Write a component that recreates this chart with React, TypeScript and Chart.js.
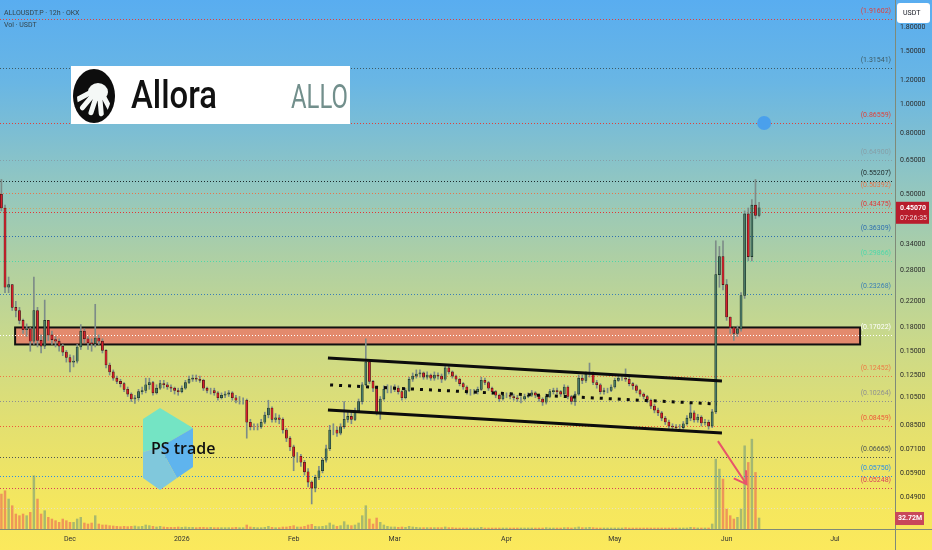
import { useEffect, useRef } from "react"
import { Chart, registerables } from "chart.js"

Chart.register(...registerables)

// daily candles, day 0 = 12 Nov 2025
const firstOpen = 0.5
const closes = [
  0.45, 0.245, 0.25, 0.21, 0.205, 0.19, 0.177, 0.178, 0.162, 0.205,
  0.163, 0.156, 0.19, 0.17, 0.164, 0.162, 0.156, 0.149, 0.143, 0.138,
  0.139, 0.155, 0.175, 0.165, 0.16, 0.159, 0.166, 0.162, 0.151, 0.135,
  0.128, 0.122, 0.119, 0.117, 0.112, 0.108, 0.104, 0.105, 0.11, 0.111,
  0.116, 0.118, 0.109, 0.113, 0.117, 0.116, 0.114, 0.113, 0.111, 0.11,
  0.113, 0.118, 0.121, 0.122, 0.121, 0.12, 0.113, 0.111, 0.111, 0.109,
  0.105, 0.107, 0.108, 0.109, 0.105, 0.103, 0.103, 0.103, 0.087, 0.084,
  0.084, 0.084, 0.087, 0.092, 0.097, 0.089, 0.09, 0.089, 0.082, 0.077,
  0.072, 0.067, 0.067, 0.064, 0.0595, 0.055, 0.0525, 0.057, 0.06, 0.065,
  0.071, 0.082, 0.082, 0.08, 0.084, 0.089, 0.091, 0.089, 0.095, 0.102,
  0.116, 0.138, 0.119, 0.113, 0.094, 0.104, 0.112, 0.112, 0.112, 0.113,
  0.11, 0.105, 0.111, 0.121, 0.124, 0.126, 0.127, 0.123, 0.125, 0.122,
  0.125, 0.124, 0.121, 0.132, 0.128, 0.124, 0.121, 0.117, 0.114, 0.11,
  0.11, 0.11, 0.112, 0.12, 0.118, 0.113, 0.11, 0.107, 0.104, 0.107,
  0.107, 0.106, 0.105, 0.104, 0.104, 0.106, 0.107, 0.109, 0.107, 0.104,
  0.1015, 0.106, 0.11, 0.111, 0.11, 0.108, 0.114, 0.106, 0.102, 0.108,
  0.122, 0.12, 0.126, 0.127, 0.118, 0.116, 0.11, 0.111, 0.111, 0.114,
  0.12, 0.122, 0.122, 0.121, 0.117, 0.115, 0.111, 0.108, 0.106, 0.103,
  0.0985, 0.0955, 0.0935, 0.0898, 0.0872, 0.0845, 0.084, 0.0835, 0.0835, 0.086,
  0.0898, 0.0935, 0.0885, 0.0905, 0.0865, 0.087, 0.0845, 0.0942, 0.27, 0.31,
  0.25, 0.195, 0.18, 0.172, 0.178, 0.23, 0.43, 0.31, 0.46, 0.425,
  0.4507,
]
const highs = [
  0.56, 0.46, 0.265, 0.25, 0.22, 0.21, 0.192, 0.185, 0.18, 0.265,
  0.21, 0.17, 0.222, 0.19, 0.175, 0.168, 0.165, 0.158, 0.151, 0.146,
  0.145, 0.158, 0.184, 0.178, 0.168, 0.165, 0.215, 0.17, 0.165, 0.152,
  0.137, 0.13, 0.124, 0.121, 0.118, 0.114, 0.109, 0.107, 0.112, 0.114,
  0.122, 0.122, 0.119, 0.116, 0.12, 0.12, 0.118, 0.116, 0.114, 0.113,
  0.115, 0.12, 0.124, 0.125, 0.125, 0.124, 0.121, 0.114, 0.113, 0.113,
  0.11, 0.109, 0.11, 0.111, 0.11, 0.107, 0.106, 0.105, 0.104, 0.089,
  0.086, 0.086, 0.089, 0.094, 0.103, 0.098, 0.093, 0.092, 0.09, 0.083,
  0.078, 0.073, 0.069, 0.068, 0.065, 0.061, 0.0555, 0.058, 0.062, 0.066,
  0.073, 0.085, 0.086, 0.084, 0.086, 0.102, 0.094, 0.094, 0.097, 0.104,
  0.118, 0.165, 0.14, 0.12, 0.114, 0.106, 0.115, 0.116, 0.115, 0.116,
  0.115, 0.111, 0.113, 0.123, 0.127, 0.13, 0.13, 0.128, 0.128, 0.126,
  0.128, 0.127, 0.126, 0.135, 0.134, 0.129, 0.125, 0.122, 0.118, 0.115,
  0.112, 0.112, 0.114, 0.123, 0.122, 0.119, 0.114, 0.111, 0.108, 0.109,
  0.109, 0.109, 0.108, 0.107, 0.106, 0.108, 0.109, 0.111, 0.11, 0.108,
  0.105, 0.108, 0.112, 0.113, 0.113, 0.111, 0.116, 0.115, 0.107, 0.11,
  0.125, 0.125, 0.128, 0.137, 0.128, 0.12, 0.117, 0.113, 0.113, 0.116,
  0.122, 0.124, 0.125, 0.131, 0.123, 0.118, 0.116, 0.112, 0.109, 0.107,
  0.104, 0.1, 0.097, 0.0945, 0.091, 0.0885, 0.086, 0.0855, 0.0855, 0.0875,
  0.0915, 0.1016, 0.095, 0.0925, 0.0915, 0.089, 0.0885, 0.096, 0.35, 0.335,
  0.35, 0.26, 0.195, 0.18, 0.182, 0.235, 0.44, 0.45, 0.48, 0.56,
  0.47,
]
const lows = [
  0.44, 0.235, 0.235, 0.205, 0.195, 0.185, 0.172, 0.168, 0.15, 0.158,
  0.155, 0.148, 0.153, 0.163, 0.158, 0.155, 0.15, 0.145, 0.138, 0.128,
  0.133, 0.137, 0.152, 0.16, 0.152, 0.15, 0.155, 0.158, 0.148, 0.132,
  0.125, 0.12, 0.117, 0.114, 0.11, 0.106, 0.102, 0.1005, 0.103, 0.108,
  0.109, 0.112, 0.107, 0.108, 0.112, 0.113, 0.112, 0.11, 0.108, 0.107,
  0.109, 0.112, 0.117, 0.119, 0.119, 0.118, 0.111, 0.109, 0.108, 0.107,
  0.103, 0.104, 0.105, 0.106, 0.103, 0.101, 0.1, 0.1, 0.077, 0.082,
  0.082, 0.082, 0.083, 0.086, 0.09, 0.087, 0.087, 0.086, 0.08, 0.075,
  0.07, 0.06, 0.064, 0.062, 0.058, 0.053, 0.0465, 0.051, 0.056, 0.059,
  0.064, 0.07, 0.079, 0.078, 0.079, 0.083, 0.087, 0.086, 0.088, 0.094,
  0.1, 0.115, 0.117, 0.11, 0.092, 0.089, 0.103, 0.109, 0.109, 0.11,
  0.108, 0.103, 0.104, 0.11, 0.119, 0.122, 0.123, 0.121, 0.121, 0.12,
  0.12, 0.121, 0.118, 0.12, 0.126, 0.122, 0.119, 0.115, 0.112, 0.108,
  0.107, 0.108, 0.108, 0.111, 0.116, 0.111, 0.108, 0.105, 0.102, 0.103,
  0.105, 0.104, 0.103, 0.102, 0.101, 0.103, 0.105, 0.106, 0.105, 0.102,
  0.099, 0.1, 0.105, 0.108, 0.108, 0.106, 0.107, 0.104, 0.1, 0.099,
  0.107, 0.117, 0.118, 0.123, 0.116, 0.113, 0.108, 0.108, 0.109, 0.11,
  0.113, 0.119, 0.12, 0.119, 0.115, 0.112, 0.109, 0.106, 0.104, 0.101,
  0.0965, 0.0935, 0.0915, 0.088, 0.0855, 0.083, 0.0825, 0.082, 0.082, 0.0825,
  0.085, 0.088, 0.087, 0.087, 0.0845, 0.085, 0.0825, 0.0835, 0.093, 0.245,
  0.24, 0.19, 0.172, 0.163, 0.168, 0.175, 0.225, 0.3, 0.3, 0.415,
  0.42,
]
// volume in millions of USDT
const volumes = [
  105, 115, 90, 70, 45, 40, 45, 40, 50, 160,
  90, 45, 55, 35, 30, 25, 20, 30, 25, 20,
  20, 30, 35, 18, 15, 18, 40, 15, 12, 12,
  10, 9, 8, 7, 8, 7, 8, 9, 7, 8,
  12, 10, 8, 6, 8, 6, 5, 5, 5, 6,
  5, 6, 5, 5, 4, 5, 5, 4, 5, 4,
  4, 4, 4, 4, 4, 5, 4, 4, 12, 6,
  5, 4, 4, 5, 8, 5, 4, 4, 6, 6,
  8, 10, 6, 6, 8, 12, 14, 8, 7, 8,
  10, 18, 12, 8, 10, 22, 12, 10, 12, 18,
  40, 70, 30, 15, 33, 20, 12, 8, 6, 6,
  5, 6, 5, 8, 6, 5, 4, 4, 4, 4,
  4, 4, 4, 6, 4, 4, 3, 3, 3, 3,
  3, 3, 3, 5, 3, 3, 3, 3, 3, 3,
  3, 3, 3, 3, 3, 3, 3, 3, 3, 3,
  3, 4, 3, 3, 3, 3, 4, 4, 3, 4,
  6, 4, 4, 5, 4, 3, 3, 3, 3, 3,
  3, 3, 3, 4, 3, 3, 3, 3, 3, 3,
  3, 3, 3, 3, 3, 3, 3, 3, 3, 3,
  3, 5, 4, 3, 3, 3, 3, 15, 210, 180,
  150, 60, 40, 30, 35, 60, 250, 200, 270, 170,
  33,
]

const monthTicks = [19, 50, 81, 109, 140, 170, 201, 231]
const monthLabels = ["Dec", "2026", "Feb", "Mar", "Apr", "May", "Jun", "Jul"]
const priceTicks = [1.8, 1.5, 1.2, 1.0, 0.8, 0.65, 0.5, 0.34, 0.28, 0.22, 0.18, 0.15, 0.125, 0.105, 0.085, 0.071, 0.059, 0.049]

const levels = [1.91602, 1.31541, 0.86559, 0.649, 0.55207, 0.50392, 0.43475, 0.36309, 0.29866, 0.23268, 0.17022, 0.12452, 0.10264, 0.08459, 0.06665, 0.0575, 0.05248]
const levelColors = ["#e0413a", "#3e5a64", "#e0413a", "#86a0a8", "#1e2a2a", "#e8764a", "#e33434", "#2f6fb0", "#4fd8a8", "#3a7fb5", "#ffffff", "#ee7a45", "#8f9090", "#ee5a3a", "#4a5555", "#2a8de8", "#d8405a"]

const zoneDays = [3.8, 238]
const zonePrices = [0.158, 0.18]
const channelDays = [90.5, 199.7]
const upperLine = [0.1424, 0.1194]
const lowerLine = [0.0955, 0.0801]
const midDays = [91.1, 198.3]
const midLine = [0.1158, 0.1001]
const arrowDays = [198.6, 206.5]
const arrowPrices = [0.0753, 0.0541]
const dotDay = 211.4
const dotPrice = 0.864

const opens = closes.map((c, i) => (i === 0 ? firstOpen : closes[i - 1]))
const isUp = closes.map((c, i) => c >= opens[i])

const FONT = "Roboto, 'DejaVu Sans', sans-serif"

const overlay = {
  id: "overlay",
  beforeDraw(chart: any) {
    const { ctx, width, height } = chart
    const g = ctx.createLinearGradient(0, 0, 0, height)
    g.addColorStop(0, "#59adf0")
    g.addColorStop(0.15, "#69b6e4")
    g.addColorStop(0.32, "#8ec5c4")
    g.addColorStop(0.48, "#b0d0a2")
    g.addColorStop(0.62, "#cad98a")
    g.addColorStop(0.78, "#e4e06f")
    g.addColorStop(0.92, "#f5e75e")
    g.addColorStop(1, "#fbe95c")
    ctx.save()
    ctx.fillStyle = g
    ctx.fillRect(0, 0, width, height)
    ctx.restore()
  },
  beforeDatasetsDraw(chart: any) {
    const { ctx, chartArea } = chart
    const X = chart.scales.x
    const Y = chart.scales.y
    ctx.save()
    // zone
    const zl = X.getPixelForValue(zoneDays[0])
    const zr = X.getPixelForValue(zoneDays[1])
    const zt = Y.getPixelForValue(zonePrices[1])
    const zb = Y.getPixelForValue(zonePrices[0])
    ctx.fillStyle = "#e38a6d"
    ctx.fillRect(zl, zt, zr - zl, zb - zt)
    ctx.strokeStyle = "#111"
    ctx.lineWidth = 2
    ctx.strokeRect(zl, zt, zr - zl, zb - zt)

    // faint level and current price line
    ctx.lineWidth = 1
    ctx.setLineDash([1, 2])
    const faint = [
      [0.045, "rgba(230,225,200,0.9)"],
      [closes[closes.length - 1], "#c9a46a"],
    ]
    faint.forEach(([v, c]: any) => {
      const y = Math.round(Y.getPixelForValue(v)) + 0.5
      ctx.strokeStyle = c
      ctx.beginPath()
      ctx.moveTo(chartArea.left, y)
      ctx.lineTo(892, y)
      ctx.stroke()
    })

    ctx.font = `7px ${FONT}`
    ctx.textAlign = "right"
    ctx.textBaseline = "middle"
    levels.forEach((v, i) => {
      const y = Math.round(Y.getPixelForValue(v)) + 0.5
      ctx.strokeStyle = levelColors[i]
      ctx.beginPath()
      ctx.moveTo(chartArea.left, y)
      ctx.lineTo(892, y)
      ctx.stroke()
      ctx.fillStyle = levelColors[i]
      ctx.fillText(`(${v.toFixed(5)})`, 891, y - 8)
    })
    ctx.restore()
  },
  afterDatasetsDraw(chart: any) {
    const { ctx } = chart
    const X = chart.scales.x
    const Y = chart.scales.y
    ctx.save()
    ctx.strokeStyle = "#0c0c0c"
    ctx.lineWidth = 3
    ;[upperLine, lowerLine].forEach((ln) => {
      ctx.beginPath()
      ctx.moveTo(X.getPixelForValue(channelDays[0]), Y.getPixelForValue(ln[0]))
      ctx.lineTo(X.getPixelForValue(channelDays[1]), Y.getPixelForValue(ln[1]))
      ctx.stroke()
    })
    ctx.setLineDash([3, 6])
    ctx.beginPath()
    ctx.moveTo(X.getPixelForValue(midDays[0]), Y.getPixelForValue(midLine[0]))
    ctx.lineTo(X.getPixelForValue(midDays[1]), Y.getPixelForValue(midLine[1]))
    ctx.stroke()
    ctx.setLineDash([])

    // arrow
    const x0 = X.getPixelForValue(arrowDays[0])
    const y0 = Y.getPixelForValue(arrowPrices[0])
    const x1 = X.getPixelForValue(arrowDays[1])
    const y1 = Y.getPixelForValue(arrowPrices[1])
    const a = Math.atan2(y1 - y0, x1 - x0)
    ctx.strokeStyle = "#e8546a"
    ctx.lineWidth = 2
    ctx.beginPath()
    ctx.moveTo(x0, y0)
    ctx.lineTo(x1, y1)
    ctx.moveTo(x1 - 14 * Math.cos(a - 0.55), y1 - 14 * Math.sin(a - 0.55))
    ctx.lineTo(x1, y1)
    ctx.lineTo(x1 - 14 * Math.cos(a + 0.55), y1 - 14 * Math.sin(a + 0.55))
    ctx.stroke()
    ctx.restore()
  },
  afterDraw(chart: any) {
    const { ctx, width, height, chartArea } = chart
    const Y = chart.scales.y
    const V = chart.scales.vol
    ctx.save()
    // axis lines
    ctx.strokeStyle = "#7f8a78"
    ctx.lineWidth = 1
    ctx.beginPath()
    ctx.moveTo(chartArea.right + 0.5, 0)
    ctx.lineTo(chartArea.right + 0.5, height)
    ctx.moveTo(0, chartArea.bottom + 0.5)
    ctx.lineTo(width, chartArea.bottom + 0.5)
    ctx.stroke()

    // header
    ctx.font = `7px ${FONT}`
    ctx.textAlign = "left"
    ctx.textBaseline = "middle"
    ctx.fillStyle = "#34454c"
    ctx.fillText("ALLOUSDT.P · 12h · OKX", 4, 13)
    ctx.fillText("Vol · USDT", 4, 25)

    // Allora banner
    ctx.fillStyle = "#ffffff"
    ctx.fillRect(71, 66, 279, 58)
    ctx.fillStyle = "#0d0d0d"
    ctx.beginPath()
    ctx.ellipse(94, 96, 21, 27, 0, 0, Math.PI * 2)
    ctx.fill()
    ctx.save()
    ctx.beginPath()
    ctx.ellipse(94, 96, 17, 23, 0, 0, Math.PI * 2)
    ctx.clip()
    ctx.strokeStyle = "#f4f8f6"
    ctx.fillStyle = "#f4f8f6"
    ctx.lineCap = "round"
    ctx.lineWidth = 5
    ;[62, 85, 108, 130, 152].forEach((deg) => {
      const r = (deg * Math.PI) / 180
      ctx.beginPath()
      ctx.moveTo(99, 88)
      ctx.lineTo(99 + 26 * Math.cos(r), 88 + 26 * Math.sin(r))
      ctx.stroke()
    })
    ctx.beginPath()
    ctx.ellipse(98, 92, 10, 9, 0, 0, Math.PI * 2)
    ctx.fill()
    ctx.restore()
    ctx.fillStyle = "#111"
    ctx.textBaseline = "alphabetic"
    ctx.font = `500 38px ${FONT}`
    ctx.fillText("Allora", 131, 108, 86)
    ctx.fillStyle = "#728f8c"
    ctx.font = `33px ${FONT}`
    ctx.fillText("ALLO", 291, 108, 57)

    // PS trade badge
    const facets: [string, number[][]][] = [
      ["#74e4c4", [[160, 408], [193, 428], [160, 447], [143, 452], [143, 419]]],
      ["#5fb4ee", [[193, 428], [193, 467], [177, 478], [160, 447]]],
      ["#80c8dc", [[143, 452], [160, 447], [177, 478], [160, 490], [143, 478]]],
    ]
    facets.forEach(([c, pts]) => {
      ctx.fillStyle = c
      ctx.beginPath()
      pts.forEach(([x, y], i) => (i ? ctx.lineTo(x, y) : ctx.moveTo(x, y)))
      ctx.closePath()
      ctx.fill()
    })
    ctx.fillStyle = "#101010"
    ctx.font = `600 16px 'Open Sans', ${FONT}`
    ctx.textBaseline = "alphabetic"
    ctx.fillText("PS trade", 151, 454, 66)

    // USDT box
    ctx.fillStyle = "#ffffff"
    ctx.beginPath()
    ctx.roundRect(897, 3, 33, 20, 3)
    ctx.fill()
    ctx.fillStyle = "#131722"
    ctx.font = `7px ${FONT}`
    ctx.textBaseline = "middle"
    ctx.fillText("USDT", 903, 13)

    // last price box
    const last = closes[closes.length - 1]
    const py = Y.getPixelForValue(last)
    ctx.fillStyle = "#b81d2c"
    ctx.fillRect(896, py - 6, 33, 22)
    ctx.fillStyle = "#ffffff"
    ctx.font = `bold 7px ${FONT}`
    ctx.fillText(last.toFixed(5), 900, py)
    ctx.font = `7px ${FONT}`
    ctx.fillStyle = "#f3d6d8"
    ctx.fillText("07:26:35", 900, py + 10)

    // last volume box
    const vy = V.getPixelForValue(volumes[volumes.length - 1])
    ctx.fillStyle = "#c8485a"
    ctx.fillRect(895, vy - 6, 29, 13)
    ctx.fillStyle = "#ffffff"
    ctx.font = `bold 7px ${FONT}`
    ctx.fillText("32.72M", 898, vy + 0.5)
    ctx.restore()
  },
}

export default function App() {
  const canvasRef = useRef<HTMLCanvasElement>(null)

  useEffect(() => {
    document.body.style.margin = "0"
    if (!canvasRef.current) return

    const days = closes.map((_, i) => i)
    const chart = new Chart(canvasRef.current, {
      type: "bar",
      data: {
        datasets: [
          {
            type: "scatter",
            data: [{ x: dotDay, y: dotPrice }],
            backgroundColor: "#4aa0ec",
            borderWidth: 0,
            pointRadius: 7,
            yAxisID: "y",
            order: 0,
          } as any,
          {
            data: days.map((d) => ({ x: d, y: [opens[d], closes[d]] })),
            backgroundColor: days.map((d) => (isUp[d] ? "#4a7866" : "#d4202c")),
            borderColor: days.map((d) => (isUp[d] ? "#16281f" : "#3a1212")),
            borderWidth: 0.6,
            borderSkipped: false,
            barThickness: 2.2,
            grouped: false,
            yAxisID: "y",
            order: 1,
          },
          {
            data: days.map((d) => ({ x: d, y: [lows[d], highs[d]] })),
            backgroundColor: "#7d8c88",
            barThickness: 1,
            grouped: false,
            yAxisID: "y",
            order: 2,
          },
          {
            data: days.map((d) => ({ x: d, y: volumes[d] })),
            backgroundColor: days.map((d) => (isUp[d] ? "rgba(90,140,125,0.5)" : "rgba(232,84,84,0.55)")),
            barThickness: 1.8,
            grouped: false,
            yAxisID: "vol",
            order: 3,
          },
        ],
      },
      options: {
        animation: false,
        responsive: true,
        maintainAspectRatio: false,
        layout: { padding: 0, autoPadding: false },
        plugins: {
          legend: { display: false },
          tooltip: { enabled: false },
        },
        scales: {
          x: {
            type: "linear",
            min: -0.39,
            max: 247.67,
            offset: false,
            grid: { display: false, drawTicks: false },
            border: { display: false },
            afterBuildTicks: (s: any) => {
              s.ticks = monthTicks.map((v) => ({ value: v }))
            },
            afterFit: (s: any) => {
              s.height = 21
              s.paddingLeft = 0
              s.paddingRight = 0
            },
            ticks: {
              autoSkip: false,
              maxRotation: 0,
              padding: 6,
              color: "#333",
              font: { size: 7, family: FONT },
              callback: (v: any) => monthLabels[monthTicks.indexOf(Number(v))] ?? "",
            },
          },
          y: {
            type: "logarithmic",
            position: "right",
            min: 0.03837,
            max: 2.218,
            grid: { display: false, drawTicks: false },
            border: { display: false },
            afterBuildTicks: (s: any) => {
              s.ticks = priceTicks.map((v) => ({ value: v }))
            },
            afterFit: (s: any) => {
              s.width = 37
              s.paddingTop = 0
              s.paddingBottom = 0
            },
            ticks: {
              autoSkip: false,
              padding: 5,
              color: "#2b2b2b",
              font: { size: 7, family: FONT },
              callback: (v: any) => Number(v).toFixed(5),
            },
          },
          vol: {
            type: "linear",
            display: false,
            min: 0,
            max: 1590,
          },
        },
      },
      plugins: [overlay],
    } as any)

    return () => chart.destroy()
  }, [])

  return (
    <div style={{ width: 932, height: 550, position: "relative" }}>
      <canvas ref={canvasRef} />
    </div>
  )
}
